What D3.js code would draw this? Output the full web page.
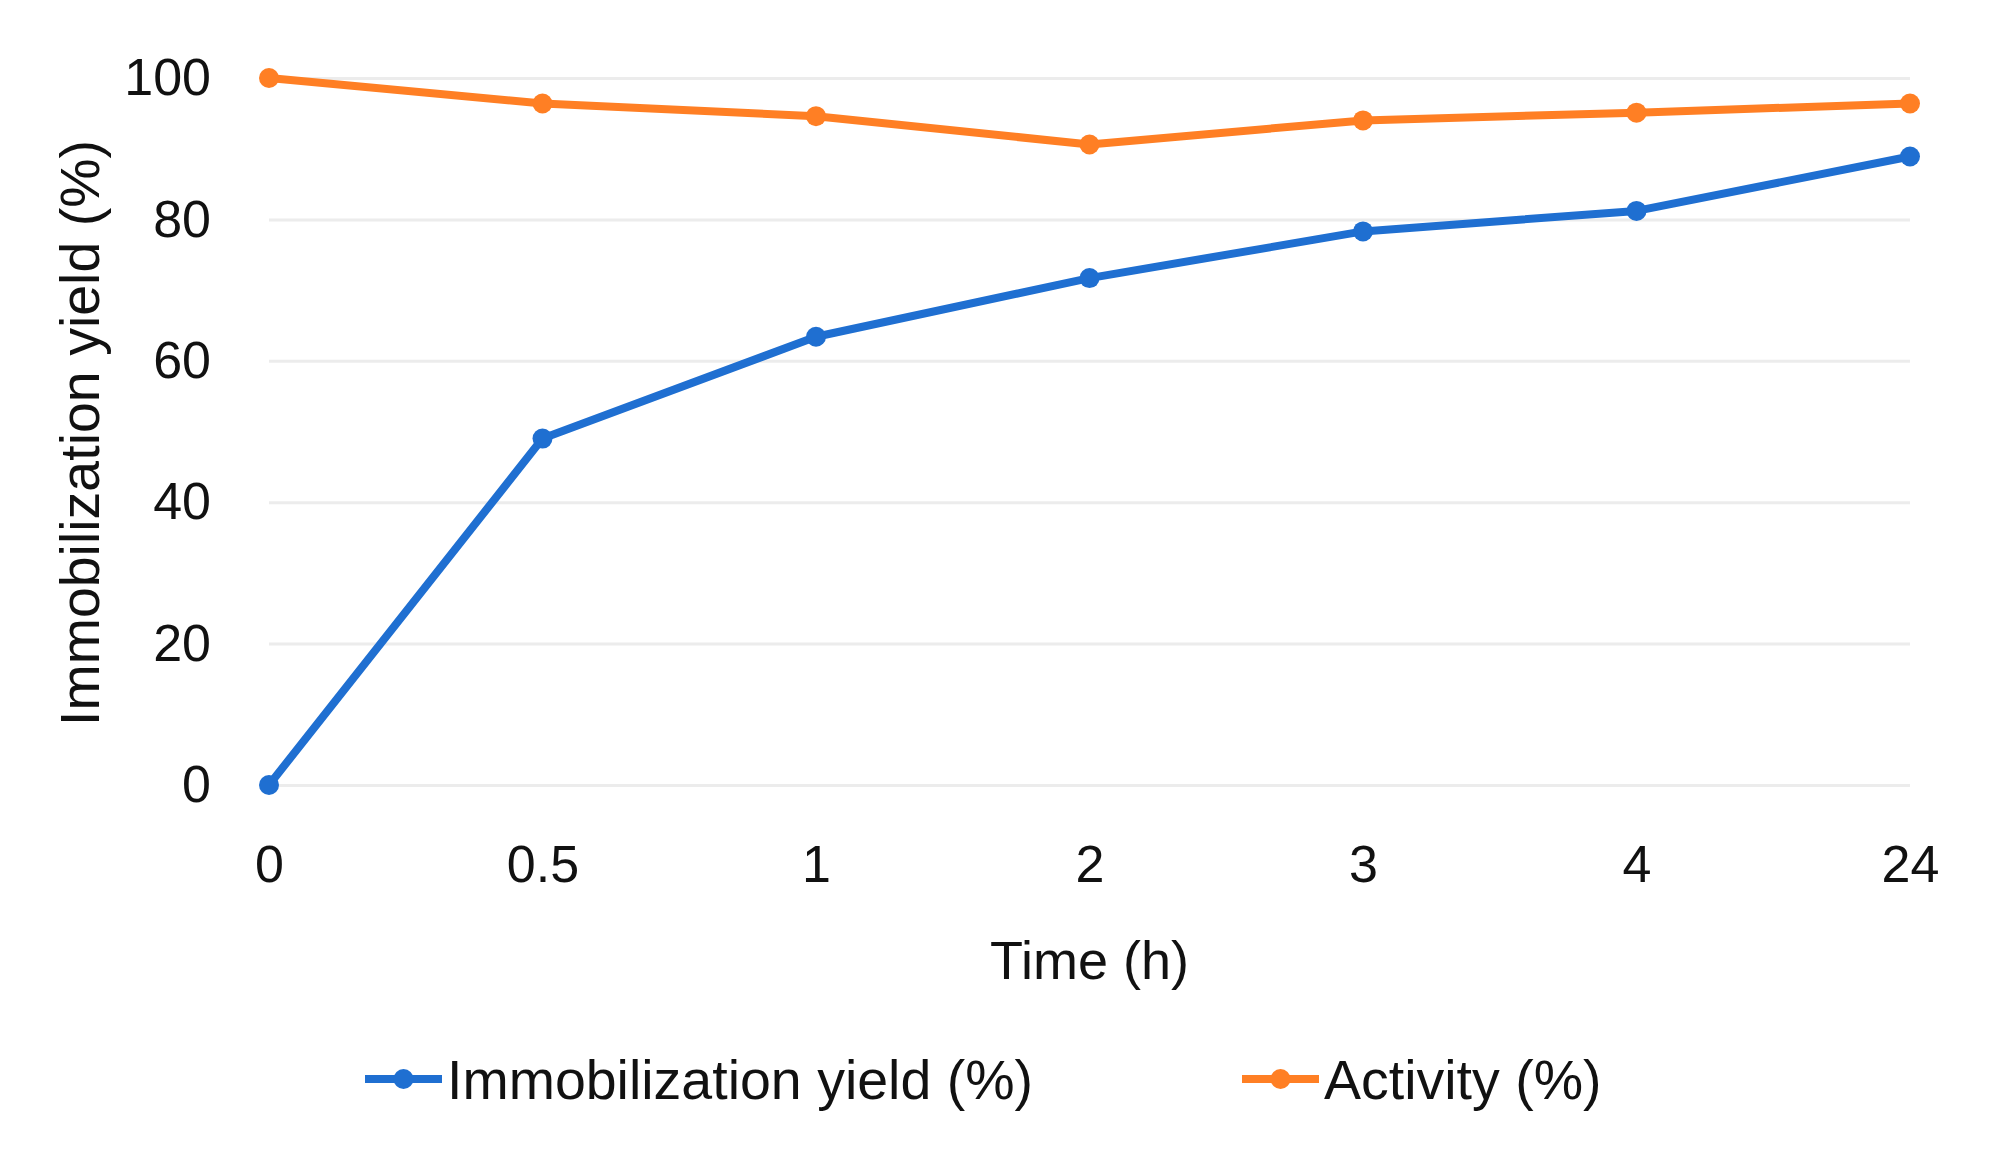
<!DOCTYPE html>
<html>
<head>
<meta charset="utf-8">
<script src="https://cdn.jsdelivr.net/npm/d3@7"></script>
<style>
  body { margin: 0; background: #fff; }
  text { font-family: "Liberation Sans", Arial, sans-serif; fill: #111; }
</style>
</head>
<body>
<svg id="chart" width="2007" height="1150"></svg>
<script>
/* data */
var timeLabels = ["0", "0.5", "1", "2", "3", "4", "24"];
var yieldValues = [0, 49, 63.4, 71.7, 78.3, 81.2, 88.9];
var activityValues = [100, 96.4, 94.6, 90.6, 94.0, 95.1, 96.4];
var yTicks = [0, 20, 40, 60, 80, 100];

var seriesNames = ["Immobilization yield (%)", "Activity (%)"];
var seriesColors = ["#1f6fd1", "#ff7f24"];

var svg = d3.select("#chart");

var margin = { left: 269, right: 2007 - 1910, top: 78, bottom: 1150 - 785 };
var width = 2007 - margin.left - margin.right;
var height = 1150 - margin.top - margin.bottom;

var x = d3.scalePoint()
  .domain(timeLabels)
  .range([0, width]);

var y = d3.scaleLinear()
  .domain([0, 100])
  .range([height, 0]);

var g = svg.append("g")
  .attr("transform", "translate(" + margin.left + "," + margin.top + ")");

// gridlines
g.append("g")
  .attr("class", "grid")
  .call(d3.axisLeft(y).tickValues(yTicks).tickSize(-width).tickFormat(""))
  .call(function (s) {
    s.select(".domain").remove();
    s.selectAll("line").attr("stroke", "#ececec").attr("stroke-width", 3);
  });

// y axis labels
g.append("g")
  .call(d3.axisLeft(y).tickValues(yTicks).tickSize(0).tickPadding(58))
  .call(function (s) {
    s.select(".domain").remove();
    s.selectAll("text").attr("font-size", 52).attr("fill", "#111")
      .style("font-family", "'Liberation Sans', Arial, sans-serif");
  });

// x axis labels
g.append("g")
  .attr("transform", "translate(0," + height + ")")
  .call(d3.axisBottom(x).tickSize(0).tickPadding(60))
  .call(function (s) {
    s.select(".domain").remove();
    s.selectAll("text").attr("font-size", 52).attr("fill", "#111")
      .style("font-family", "'Liberation Sans', Arial, sans-serif");
  });

// axis titles
svg.append("text")
  .attr("x", margin.left + width / 2)
  .attr("y", 979)
  .attr("text-anchor", "middle")
  .attr("font-size", 54)
  .text("Time (h)");

svg.append("text")
  .attr("transform", "translate(99,433) rotate(-90)")
  .attr("text-anchor", "middle")
  .attr("font-size", 55.5)
  .text("Immobilization yield (%)");

// lines + markers
var allSeries = [yieldValues, activityValues];

var line = d3.line()
  .x(function (d, i) { return x(timeLabels[i]); })
  .y(function (d) { return y(d); });

allSeries.forEach(function (vals, k) {
  g.append("path")
    .datum(vals)
    .attr("fill", "none")
    .attr("stroke", seriesColors[k])
    .attr("stroke-width", 8)
    .attr("stroke-linejoin", "round")
    .attr("d", line);

  g.selectAll(".pt" + k)
    .data(vals)
    .enter().append("circle")
    .attr("class", "pt" + k)
    .attr("cx", function (d, i) { return x(timeLabels[i]); })
    .attr("cy", function (d) { return y(d); })
    .attr("r", 10)
    .attr("fill", seriesColors[k]);
});

// legend
var legendX = [365, 1242];
var legendY = 1079;

seriesNames.forEach(function (name, k) {
  var lg = svg.append("g").attr("transform", "translate(" + legendX[k] + "," + legendY + ")");
  lg.append("line")
    .attr("x1", 0).attr("x2", 77)
    .attr("y1", 0).attr("y2", 0)
    .attr("stroke", seriesColors[k])
    .attr("stroke-width", 8);
  lg.append("circle")
    .attr("cx", 38.5).attr("cy", 0).attr("r", 10)
    .attr("fill", seriesColors[k]);
  lg.append("text")
    .attr("x", 82)
    .attr("y", 0)
    .attr("dy", "0.36em")
    .attr("font-size", 55.5)
    .text(name);
});
</script>
</body>
</html>
